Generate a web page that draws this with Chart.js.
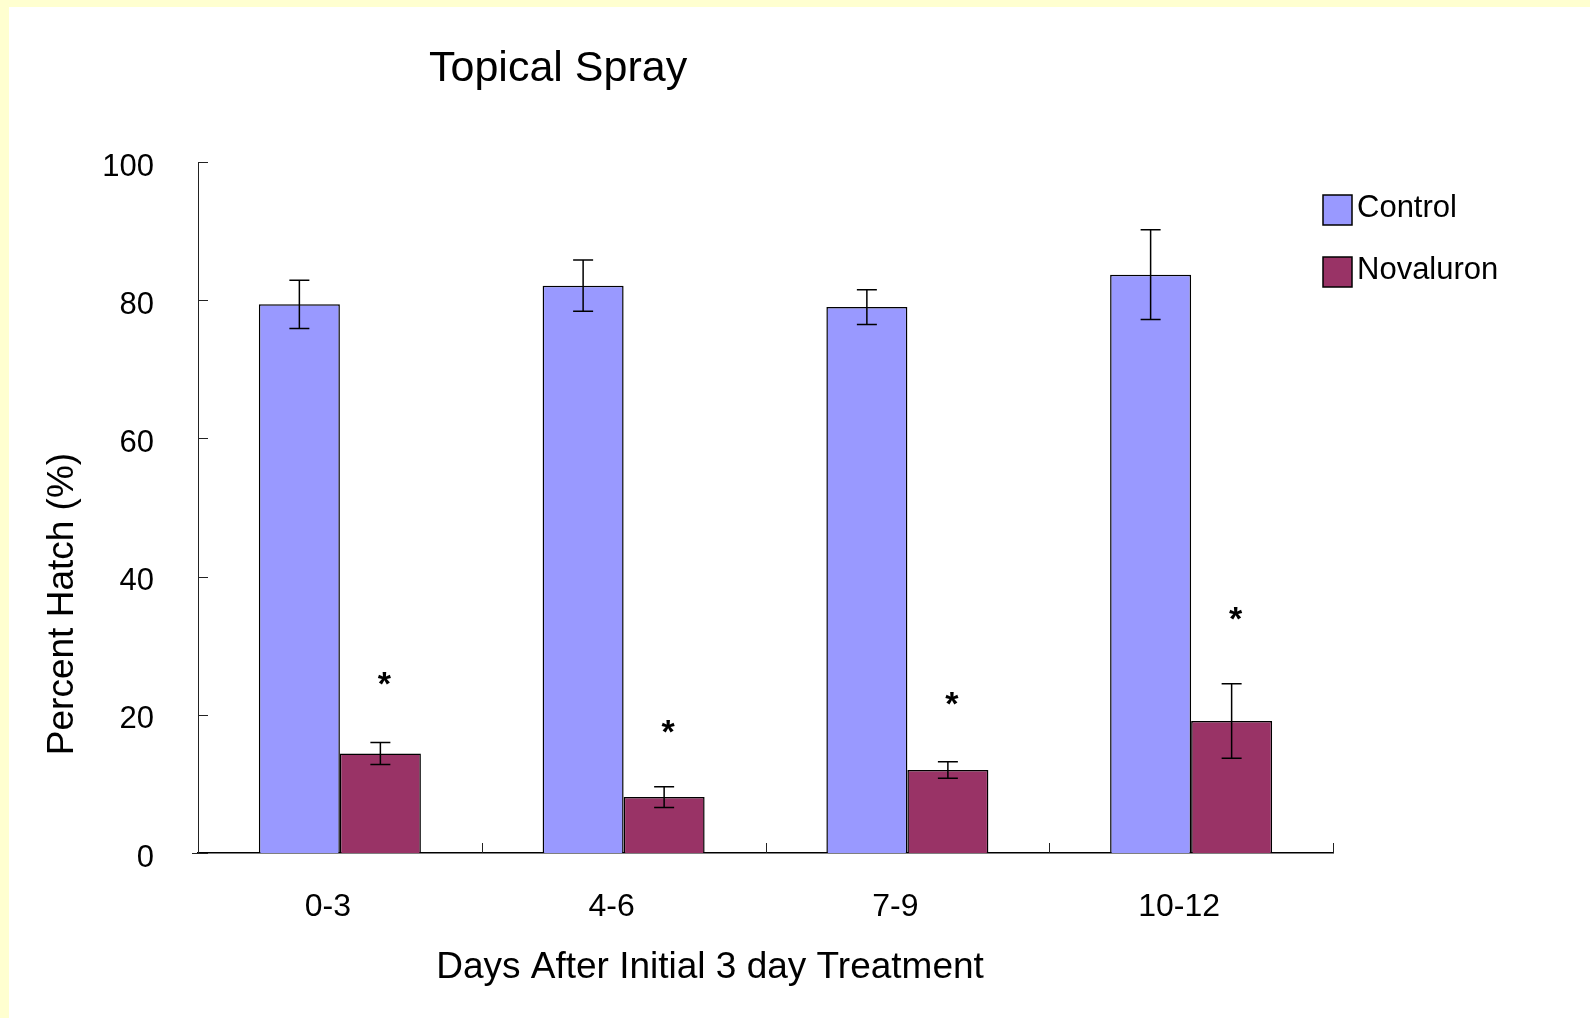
<!DOCTYPE html>
<html><head><meta charset="utf-8">
<script src="https://cdn.jsdelivr.net/npm/chart.js@4"></script>
<style>html,body{margin:0;padding:0;background:#fff;overflow:hidden}canvas{display:block}</style>
</head><body>
<canvas id="c" width="1590" height="1018"></canvas>
<script>
const categories = ['0-3', '4-6', '7-9', '10-12'];
const seriesNames = ['Control', 'Novaluron'];
const controlValues = [79.4, 82.1, 79.0, 83.7];
const controlErrors = [3.5, 3.7, 2.5, 6.5];
const novaluronValues = [14.4, 8.1, 12.0, 19.1];
const novaluronErrors = [1.6, 1.5, 1.2, 5.4];
const significanceMarkY = [25.1, 18.1, 22.2, 34.4];
const yTicks = [0, 20, 40, 60, 80, 100];
const chartTitle = 'Topical Spray';
const xTitle = 'Days After Initial 3 day Treatment';
const yTitle = 'Percent Hatch (%)';

const FONT = "'Liberation Sans', Arial, sans-serif";

const decor = {
  id: 'decor',
  beforeDraw(chart) {
    const ctx = chart.ctx;
    ctx.save();
    ctx.fillStyle = '#ffffff';
    ctx.fillRect(0, 0, chart.width, chart.height);
    ctx.fillStyle = '#FFFFD0';
    ctx.fillRect(0, 0, 9, chart.height);
    ctx.fillRect(0, 0, chart.width, 7);
    ctx.restore();
  },
  afterDatasetsDraw(chart) {
    const ctx = chart.ctx;
    const ca = chart.chartArea;
    const ys = chart.scales.y;
    ctx.save();
    // error bars
    const errs = [controlErrors, novaluronErrors];
    ctx.strokeStyle = '#000';
    ctx.lineWidth = 1.5;
    chart.data.datasets.forEach((ds, di) => {
      const meta = chart.getDatasetMeta(di);
      meta.data.forEach((bar, i) => {
        const v = ds.data[i], e = errs[di][i];
        const yt = ys.getPixelForValue(v + e), yb = ys.getPixelForValue(v - e);
        const x = bar.x;
        ctx.beginPath();
        ctx.moveTo(x, yt); ctx.lineTo(x, yb);
        ctx.moveTo(x - 10, yt); ctx.lineTo(x + 10, yt);
        ctx.moveTo(x - 10, yb); ctx.lineTo(x + 10, yb);
        ctx.stroke();
      });
    });
    // significance marks
    const nmeta = chart.getDatasetMeta(1);
    ctx.fillStyle = '#000';
    ctx.font = 'bold 34px ' + FONT;
    ctx.textAlign = 'center';
    ctx.textBaseline = 'alphabetic';
    nmeta.data.forEach((bar, i) => {
      ctx.fillText('*', bar.x + 4, ys.getPixelForValue(significanceMarkY[i]) + 15);
    });
    // inward ticks on y axis
    ctx.lineWidth = 1;
    ctx.strokeStyle = '#222';
    yTicks.forEach(t => {
      const y = Math.round(ys.getPixelForValue(t)) + 0.5;
      ctx.beginPath(); ctx.moveTo(ca.left, y); ctx.lineTo(ca.left + 10, y); ctx.stroke();
    });
    // inward ticks on x axis at category boundaries
    const n = categories.length;
    for (let i = 0; i <= n; i++) {
      const x = Math.round(ca.left + i * (ca.right - ca.left) / n) + 0.5;
      ctx.beginPath(); ctx.moveTo(x, ca.bottom); ctx.lineTo(x, ca.bottom - 10); ctx.stroke();
    }
    ctx.beginPath(); ctx.moveTo(ca.left - 6, ca.bottom + 0.5); ctx.lineTo(ca.left, ca.bottom + 0.5); ctx.stroke();
    ctx.restore();
  },
  afterDraw(chart) {
    const ctx = chart.ctx;
    ctx.save();
    ctx.fillStyle = '#000';
    // chart title
    ctx.font = '43px ' + FONT;
    ctx.textAlign = 'left';
    ctx.textBaseline = 'middle';
    ctx.fillText(chartTitle, 429, 69);
    // x title
    ctx.font = '37px ' + FONT;
    ctx.textAlign = 'center';
    ctx.fillText(xTitle, 710, 968);
    // y title
    ctx.save();
    ctx.translate(63, 604);
    ctx.rotate(-Math.PI / 2);
    ctx.fillText(yTitle, 0, 0);
    ctx.restore();
    // legend
    ctx.font = '31px ' + FONT;
    ctx.textAlign = 'left';
    chart.data.datasets.forEach((ds, i) => {
      const by = 195 + i * 62;
      ctx.fillStyle = ds.backgroundColor;
      ctx.fillRect(1323, by, 29, 30);
      ctx.strokeStyle = '#000';
      ctx.lineWidth = 1.5;
      ctx.strokeRect(1323, by, 29, 30);
      ctx.fillStyle = '#000';
      ctx.fillText(ds.label, 1357, by + 13);
    });
    ctx.restore();
  }
};

new Chart(document.getElementById('c'), {
  type: 'bar',
  data: {
    labels: categories,
    datasets: [
      { label: seriesNames[0], data: controlValues, backgroundColor: '#9999FF', borderColor: '#000', borderWidth: 1.5 },
      { label: seriesNames[1], data: novaluronValues, backgroundColor: '#993366', borderColor: '#000', borderWidth: 1.5 }
    ]
  },
  options: {
    responsive: false,
    animation: false,
    devicePixelRatio: 1,
    categoryPercentage: 0.571,
    barPercentage: 1.0,
    layout: { padding: { top: 162, right: 257, left: 0, bottom: 0 } },
    plugins: { legend: { display: false }, title: { display: false }, tooltip: { enabled: false } },
    scales: {
      x: {
        grid: { display: false, drawTicks: false },
        border: { display: true, color: '#000', width: 1.5 },
        ticks: { color: '#000', font: { family: FONT, size: 32 }, padding: 35, labelOffset: -12 },
        afterFit(s) { s.height = 165; }
      },
      y: {
        min: 0, max: 100,
        afterBuildTicks(s) { s.ticks = yTicks.map(v => ({ value: v })); },
        grid: { display: false, drawTicks: false },
        border: { display: true, color: '#222', width: 1 },
        ticks: { color: '#000', font: { family: FONT, size: 31 }, padding: 44, labelOffset: 5 },
        afterFit(s) { s.width = 198; }
      }
    }
  },
  plugins: [decor]
});
</script>
</body></html>
